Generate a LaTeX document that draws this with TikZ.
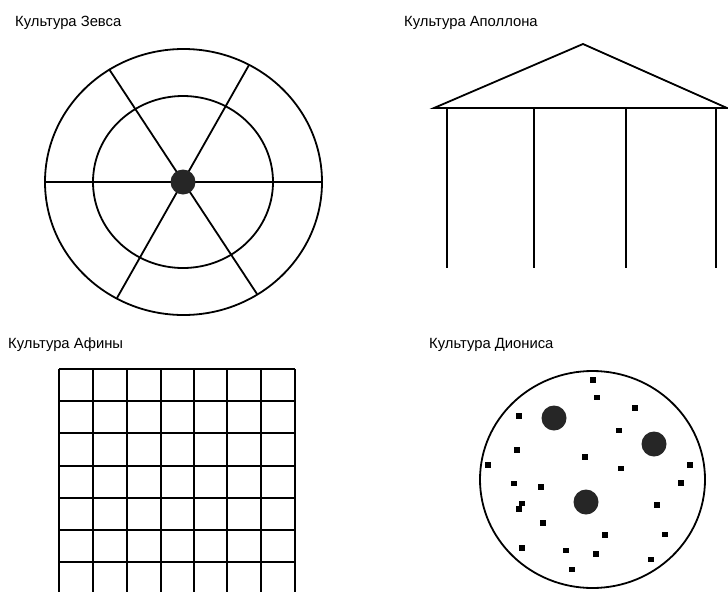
\documentclass[tikz,border=0pt]{standalone}
\usepackage{fontspec}
\setmainfont{Liberation Sans}
\begin{document}
\begin{tikzpicture}[x=1pt,y=-1pt,
  ln/.style={line width=1.8pt,black},
  lbl/.style={anchor=base west,inner sep=0pt,font=\fontsize{14.8}{16}\selectfont},
  bigdot/.style={fill=black!85},
  speck/.style={fill=black}]
\useasboundingbox[fill=white] (0,0) rectangle (728,592);
% labels
\node[lbl] (tz) at (15,26) {Культура Зевса};
\node[lbl] (ta) at (404,26) {Культура Аполлона};
\node[lbl] (tf) at (8,348) {Культура Афины};
\node[lbl] (td) at (429,348) {Культура Диониса};
% Zeus wheel
\draw[ln] (183.5,182) ellipse [x radius=138.5, y radius=133];
\draw[ln] (183,182) ellipse [x radius=90, y radius=86];
\draw[ln] (45,182) -- (322,182);
\draw[ln] (109,69) -- (257,294);
\draw[ln] (249,65) -- (117,298);
\fill[bigdot] (183,182) circle (12.5);
% Apollo temple
\draw[ln,line join=miter] (434,108) -- (583,44) -- (727,108) -- cycle;
\foreach \x in {447,534,626,716} \draw[ln] (\x,108) -- (\x,268);
% Athena grid
\foreach \x in {59,93,127,161,194,227,261,295} \draw[ln] (\x,369) -- (\x,592);
\foreach \y in {369,401,433,466,498,530,562} \draw[ln] (59,\y) -- (295,\y);
% Dionysus
\draw[ln] (592.5,479.5) ellipse [x radius=112.5, y radius=108.5];
\fill[bigdot] (554,418) circle (12.5);
\fill[bigdot] (654,444) circle (12.5);
\fill[bigdot] (586,502) circle (12.5);
\foreach \px/\py in {593.3/380,597.3/397.3,634.7/407.7,519/416,619/430.3,517.3/450,585.3/457,620.7/468.3,488/464.7,689.7/465,680.7/483,514.3/483.3,541.3/486.7,522.3/503.3,518.7/509,657/504.7,543.3/523,605/534.7,664.7/534.3,522.3/547.7,566/550.3,595.7/554,651.3/559.3,571.7/569.3}
  \fill[speck] (\px-3,\py-2.8) rectangle (\px+3,\py+2.8);
\end{tikzpicture}
\end{document}
